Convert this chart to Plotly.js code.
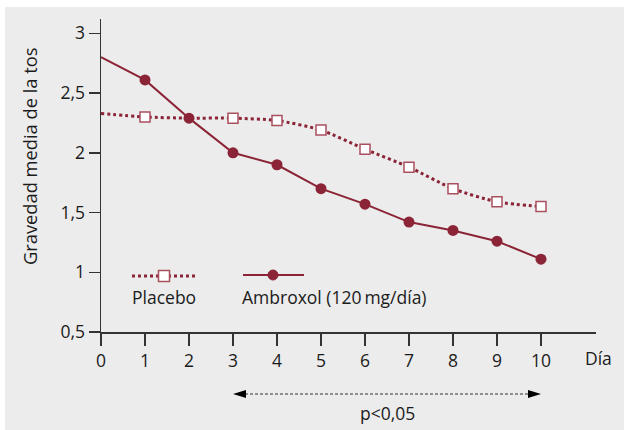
<!DOCTYPE html>
<html>
<head>
<meta charset="utf-8">
<script src="https://cdn.plot.ly/plotly-3.0.1.min.js"></script>
<style>
  html, body { margin: 0; padding: 0; background: #ffffff; }
  #plot { position: absolute; left: 5px; top: 7px; width: 619px; height: 423px; }
</style>
</head>
<body>
<div id="plot"></div>
<script>
// ---- data ----
var days = [0, 1, 2, 3, 4, 5, 6, 7, 8, 9, 10];
var placebo = [2.33, 2.30, 2.29, 2.29, 2.27, 2.19, 2.03, 1.88, 1.70, 1.59, 1.55];
var ambroxol = [2.80, 2.61, 2.29, 2.00, 1.90, 1.70, 1.57, 1.42, 1.35, 1.26, 1.11];
var yTickVals = [0.5, 1, 1.5, 2, 2.5, 3];
var xTickVals = [0, 1, 2, 3, 4, 5, 6, 7, 8, 9, 10];
var labelPlacebo = "Placebo";
var labelAmbroxol = "Ambroxol (120\u2009mg/día)";
var yTitle = "Gravedad media de la tos";
var xUnit = "Día";
var pText = "p<0,05";
var sigFrom = 3, sigTo = 10;

// ---- styling ----
var RED = "#8b2436";
var SQ_EDGE = "#a9505f";
var INK = "#1b1b1b";
var FONT = "Open Sans, Noto Sans, sans-serif";
var FS = 17.5;

// div offset on page and plot-area geometry (page pixels)
var OX = 5, OY = 7, W = 619, H = 423;
var L = 101, R = 596, T = 19, B = 332;
function px(x) { return (x - L) / (R - L); }
function py(y) { return (B - y) / (B - T); }

// first point has no marker; placebo square at day 2 is hidden under the ambroxol dot
var ambMarkerOpacity = days.map(function (d, i) { return i === 0 ? 0 : 1; });
var plaMarkerOpacity = days.map(function (d, i) { return (i === 0 || i === 2) ? 0 : 1; });

var traces = [
  {
    x: days, y: placebo, name: labelPlacebo, type: "scatter", mode: "lines+markers",
    line: { color: RED, width: 3, dash: "dot", shape: "spline", smoothing: 0.7 },
    marker: { symbol: "square", size: 10, color: "#ffffff", opacity: plaMarkerOpacity,
              line: { color: SQ_EDGE, width: 1.5 } },
    showlegend: false, hoverinfo: "x+y"
  },
  {
    x: days, y: ambroxol, name: labelAmbroxol, type: "scatter", mode: "lines+markers",
    line: { color: RED, width: 2 },
    marker: { symbol: "circle", size: 11, color: RED, opacity: ambMarkerOpacity },
    showlegend: false, hoverinfo: "x+y"
  }
];

// legend pieces (page pixel positions)
var shapes = [];
shapes.push({ type: "line", xref: "paper", yref: "paper", x0: px(132), x1: px(197), y0: py(276), y1: py(276),
  line: { color: RED, width: 3, dash: "dot" } });
shapes.push({ type: "rect", xref: "paper", yref: "paper", x0: px(158.5), x1: px(169.5), y0: py(281.5), y1: py(270.5),
  fillcolor: "#ffffff", line: { color: SQ_EDGE, width: 1.5 } });
shapes.push({ type: "line", xref: "paper", yref: "paper", x0: px(243), x1: px(304), y0: py(275), y1: py(275),
  line: { color: RED, width: 2 } });
shapes.push({ type: "circle", xref: "paper", yref: "paper", x0: px(268), x1: px(278), y0: py(280), y1: py(270),
  fillcolor: RED, line: { color: RED, width: 1 } });

// significance arrow
var ay = py(394);
var x3px = L + (sigFrom / 11.25) * (R - L);
var x10px = L + (sigTo / 11.25) * (R - L);
shapes.push({ type: "line", xref: "paper", yref: "paper", x0: px(x3px + 12), x1: px(x10px - 12), y0: ay, y1: ay,
  line: { color: "#333333", width: 1, dash: "3px,2px" } });
shapes.push({ type: "path", xref: "paper", yref: "paper", fillcolor: "#000000", line: { width: 0 },
  path: "M " + px(x3px) + " " + ay + " L " + px(x3px + 13) + " " + py(390) + " L " + px(x3px + 13) + " " + py(398) + " Z" });
shapes.push({ type: "path", xref: "paper", yref: "paper", fillcolor: "#000000", line: { width: 0 },
  path: "M " + px(x10px) + " " + ay + " L " + px(x10px - 13) + " " + py(390) + " L " + px(x10px - 13) + " " + py(398) + " Z" });

var annFont = { family: FONT, size: FS, color: INK };
var annotations = [
  { text: yTitle, xref: "paper", yref: "paper", x: px(30), y: py(157), textangle: -90,
    showarrow: false, xanchor: "center", yanchor: "middle", font: { family: FONT, size: 18.3, color: INK } },
  { text: xUnit, xref: "paper", yref: "paper", x: px(598), y: py(358),
    showarrow: false, xanchor: "center", yanchor: "middle", font: annFont },
  { text: labelPlacebo, xref: "paper", yref: "paper", x: px(130), y: py(297),
    showarrow: false, xanchor: "left", yanchor: "middle", font: annFont },
  { text: labelAmbroxol, xref: "paper", yref: "paper", x: px(240), y: py(297),
    showarrow: false, xanchor: "left", yanchor: "middle", font: annFont },
  { text: pText.replace("<", "&lt;"), xref: "paper", yref: "paper", x: px(387), y: py(413),
    showarrow: false, xanchor: "center", yanchor: "middle", font: annFont }
];

var layout = {
  width: W, height: H,
  margin: { l: L - OX, r: OX + W - R, t: T - OY, b: OY + H - B, pad: 0 },
  paper_bgcolor: "#ececec", plot_bgcolor: "#ececec",
  separators: ", ",
  font: { family: FONT, size: FS, color: INK },
  showlegend: false,
  xaxis: {
    range: [0, 11.25], tickvals: xTickVals, ticktext: xTickVals.map(String),
    showline: true, linecolor: "#333333", linewidth: 1.5,
    ticks: "outside", ticklen: 12, tickwidth: 1.5, tickcolor: "#333333",
    showgrid: false, zeroline: false, tickfont: { family: FONT, size: FS, color: INK }
  },
  yaxis: {
    range: [0.5, 3.12], tickvals: yTickVals,
    showline: true, linecolor: "#333333", linewidth: 1.5,
    ticks: "outside", ticklen: 11, tickwidth: 1.5, tickcolor: "#333333",
    showgrid: false, zeroline: false, tickfont: { family: FONT, size: FS, color: INK }
  },
  shapes: shapes,
  annotations: annotations
};

Plotly.newPlot("plot", traces, layout, { displayModeBar: false, staticPlot: true });
</script>
</body>
</html>
